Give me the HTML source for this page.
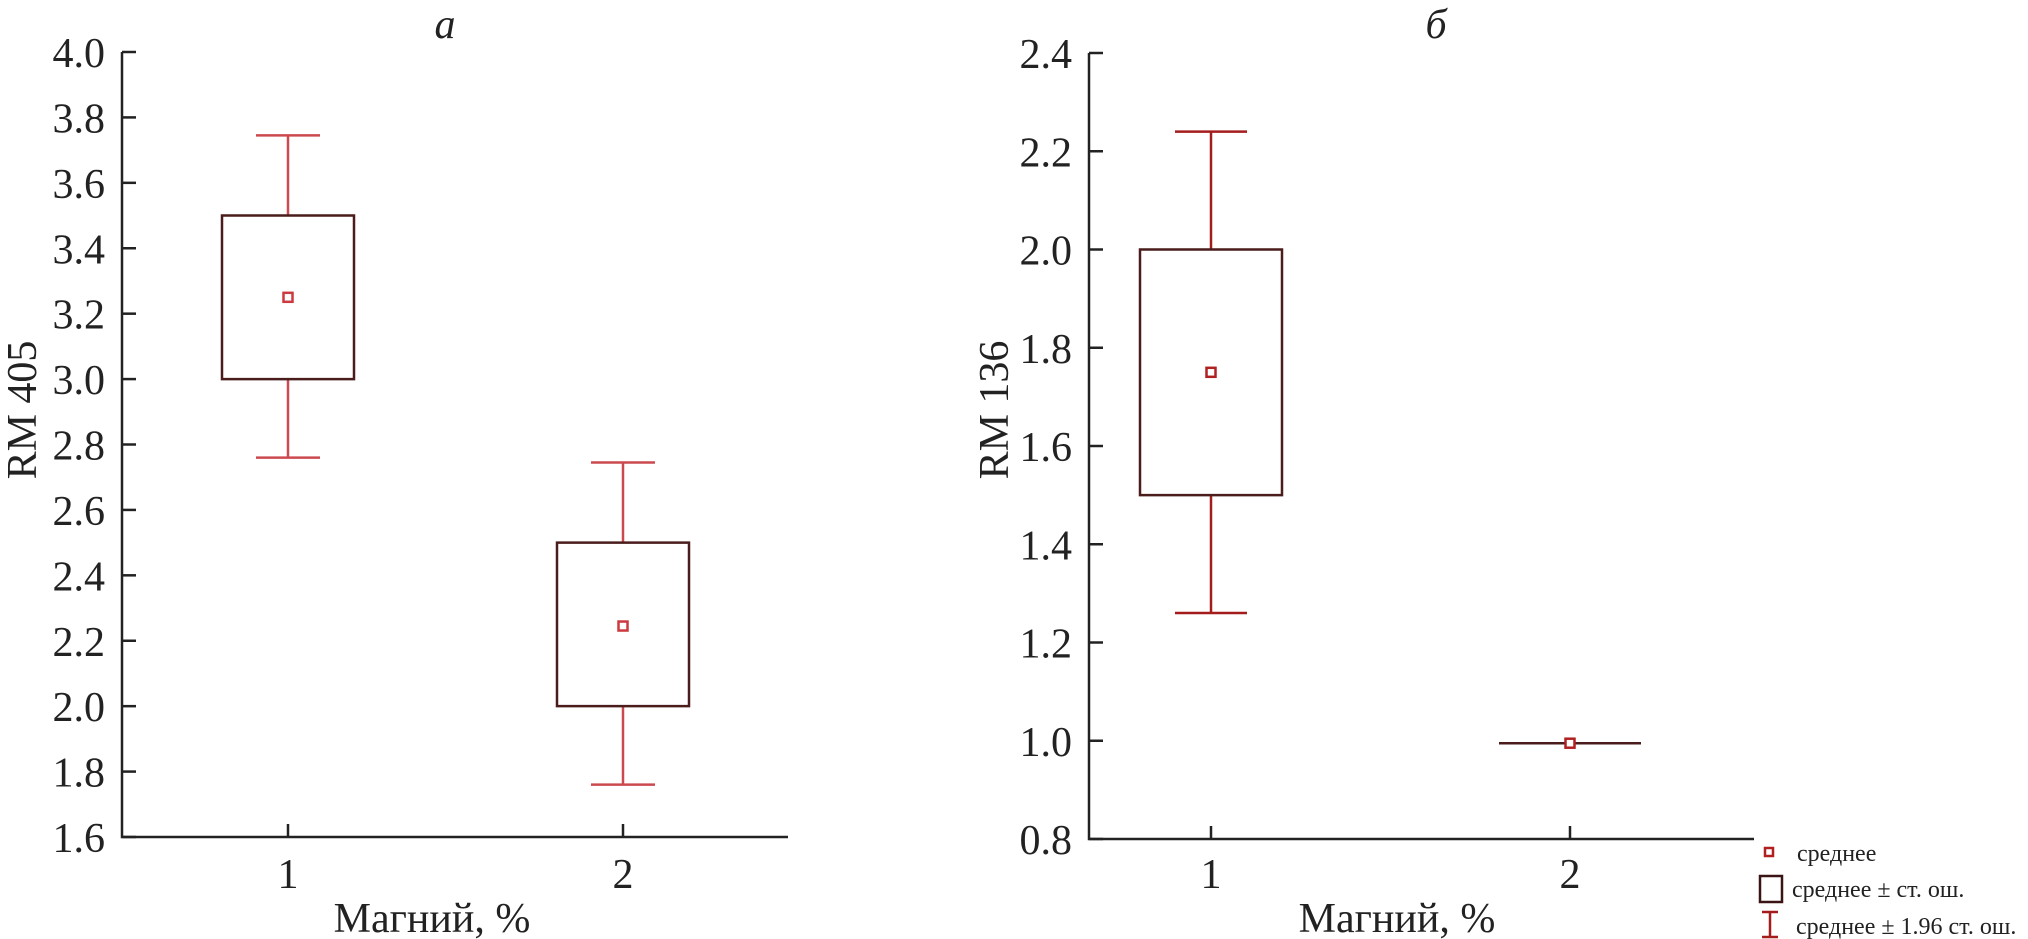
<!DOCTYPE html>
<html><head><meta charset="utf-8"><style>
html,body{margin:0;padding:0;background:#fff;}
svg{display:block;font-family:"Liberation Serif","DejaVu Serif",serif;}
</style></head><body>
<svg width="2028" height="939" viewBox="0 0 2028 939" id="fig"></svg>
<script>
const categories = ["1", "2"];
// panel a
const aBoxLow = [3.0, 2.0];
const aBoxHigh = [3.5, 2.5];
const aMean = [3.25, 2.245];
const aWhiskLow = [2.76, 1.76];
const aWhiskHigh = [3.745, 2.745];
const aTicks = ["1.6","1.8","2.0","2.2","2.4","2.6","2.8","3.0","3.2","3.4","3.6","3.8","4.0"];
// panel b
const bBoxLow = [1.5, 0.995];
const bBoxHigh = [2.0, 0.995];
const bMean = [1.75, 0.995];
const bWhiskLow = [1.26, 0.995];
const bWhiskHigh = [2.24, 0.995];
const bTicks = ["0.8","1.0","1.2","1.4","1.6","1.8","2.0","2.2","2.4"];

const NS = "http://www.w3.org/2000/svg";
const svg = document.getElementById("fig");
function mk(tag, attrs, parent, txt){
  const e = document.createElementNS(NS, tag);
  for (const k in attrs) e.setAttribute(k, attrs[k]);
  if (txt !== undefined) e.textContent = txt;
  (parent || svg).appendChild(e);
  return e;
}

function panel(cfg){
  const g = mk("g", {});
  
  
  const vmin = parseFloat(cfg.ticks[0]), vmax = parseFloat(cfg.ticks[cfg.ticks.length-1]);
  const y = v => cfg.yBot - (v - vmin) / (vmax - vmin) * (cfg.yBot - cfg.yTop);
  const x = i => cfg.cx[i];
  const ax = mk("path", {d:`M${cfg.ax} ${cfg.yTop} V${cfg.yBot} H${cfg.axEnd}`, stroke:"#222", "stroke-width":2.5, fill:"none"}, g);
  
  
  cfg.ticks.forEach(t => {
    const v = parseFloat(t);
    const tk = mk("line", {x1:cfg.ax, x2:cfg.ax+14, y1:y(v), y2:y(v), stroke:"#222", "stroke-width":2.5}, g);
    
    
    const lb = mk("text", {x:cfg.ax-17, y:y(v)+15, "text-anchor":"end", "font-size":42, fill:"#222"}, g, t);
    
    
  });
  categories.forEach((c, i) => {
    const tk = mk("line", {x1:x(i), x2:x(i), y1:cfg.yBot, y2:cfg.yBot-13, stroke:"#222", "stroke-width":2.5}, g);
    
    
    const lb = mk("text", {x:x(i), y:888, "text-anchor":"middle", "font-size":42, fill:"#222"}, g, c);
    
    
    const wk = mk("path", {d:`M${x(i)} ${y(cfg.wl[i])} V${y(cfg.bl[i])} M${x(i)} ${y(cfg.bh[i])} V${y(cfg.wh[i])} M${x(i)-cfg.cap} ${y(cfg.wl[i])} H${x(i)+cfg.cap} M${x(i)-cfg.cap} ${y(cfg.wh[i])} H${x(i)+cfg.cap}`, stroke:cfg.wc, "stroke-width":2.5, fill:"none"}, g);
    
    
    const x0 = x(i)-cfg.bw, x1 = x(i)+cfg.bw, yt = y(cfg.bh[i]), yb = y(cfg.bl[i]);
    const bx = mk("path", {d:`M${x0} ${yt} H${x1} V${yb} H${x0} Z`, stroke:"#4a1c1c", "stroke-width":2.5, fill:"#fff"}, g);
    
    
    const mn = mk("rect", {x:x(i)-4.5, y:y(cfg.mean[i])-4.5, width:9, height:9, stroke:cfg.mc, "stroke-width":2.5, fill:"#fff"}, g);
    
    
  });
  const yt = mk("text", {x:0, y:0, transform:`translate(${cfg.ytx},${cfg.yty}) rotate(-90)`, "text-anchor":"middle", "font-size":42, fill:"#222"}, g, cfg.ytitle);
  
  
  const xt = mk("text", {x:cfg.xtx, y:932, "text-anchor":"middle", "font-size":42, fill:"#222"}, g, "Магний, %");
  
  
  const pt = mk("text", {x:cfg.ptx, y:38, "text-anchor":"middle", "font-size":42, "font-style":"italic", fill:"#222"}, g, cfg.ptitle);
  
  
}

panel({name:"panel-a", ticks:aTicks, yTop:52, yBot:837, ax:122, axEnd:788, cx:[288,623], bw:66, cap:32,
  bl:aBoxLow, bh:aBoxHigh, mean:aMean, wl:aWhiskLow, wh:aWhiskHigh, wc:"#cc4a4f", mc:"#cc3a40",
  ytitle:"RM 405", ytx:36, yty:410, xtx:432, ptitle:"а", ptx:445});
panel({name:"panel-b", ticks:bTicks, yTop:53, yBot:839, ax:1089, axEnd:1754, cx:[1211,1570], bw:71, cap:36,
  bl:bBoxLow, bh:bBoxHigh, mean:bMean, wl:bWhiskLow, wh:bWhiskHigh, wc:"#a51c1c", mc:"#b02020",
  ytitle:"RM 136", ytx:1008, yty:410, xtx:1397, ptitle:"б", ptx:1436});

const lg = mk("g", {});


const l1 = mk("rect", {x:1765, y:848, width:8, height:8, stroke:"#b02020", "stroke-width":2.5, fill:"#fff"}, lg);


const t1 = mk("text", {x:1797, y:861, "font-size":24, fill:"#222"}, lg, "среднее");


const l2 = mk("rect", {x:1760, y:876, width:22, height:26, stroke:"#3a1414", "stroke-width":2.5, fill:"#fff"}, lg);


const t2 = mk("text", {x:1792, y:897, "font-size":24, fill:"#222"}, lg, "среднее ± ст. ош.");


const l3 = mk("path", {d:"M1762 912 H1778 M1770 912 V937 M1762 937 H1778", stroke:"#a51c1c", "stroke-width":2.5, fill:"none"}, lg);


const t3 = mk("text", {x:1796, y:934, "font-size":24, fill:"#222"}, lg, "среднее ± 1.96 ст. ош.");


</script>
</body></html>
